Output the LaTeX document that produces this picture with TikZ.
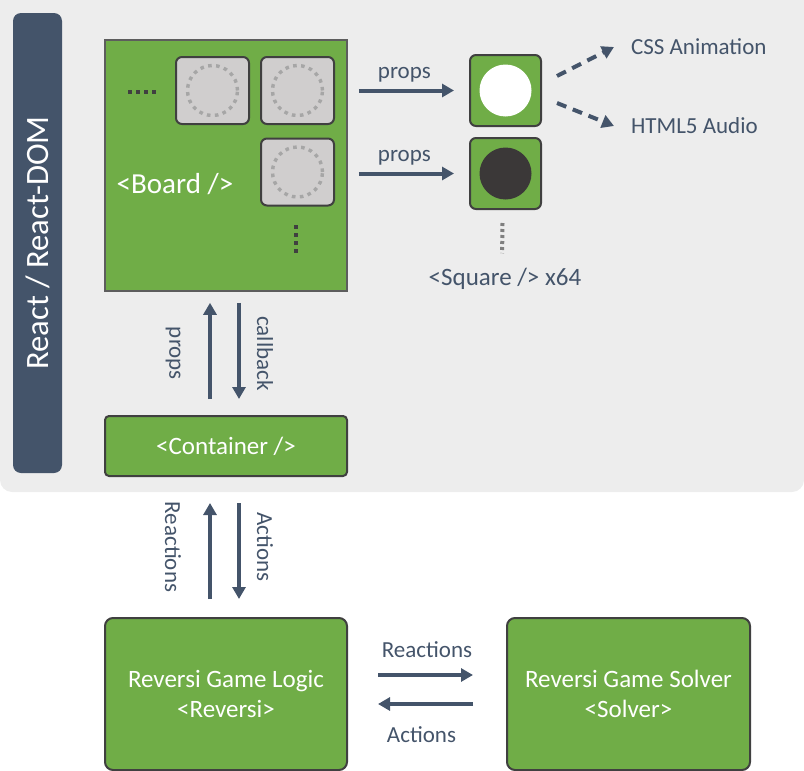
\documentclass[tikz,border=0pt]{standalone}
\usepackage{fontspec}
\setmainfont{Carlito}
\usepackage{xcolor}
\definecolor{cGreen}{HTML}{70AD47}
\definecolor{cEdge}{HTML}{404040}
\definecolor{cSlate}{HTML}{44546A}
\definecolor{cPanel}{HTML}{EDEDED}
\definecolor{cCell}{HTML}{D0CECE}
\definecolor{cDots}{HTML}{A6A6A6}
\definecolor{cStone}{HTML}{3B3838}
\definecolor{cGrayLine}{HTML}{7F7F7F}
\usetikzlibrary{positioning,arrows.meta,calc}
\tikzset{
  node-green/.style={draw=cEdge,line width=1pt,fill=cGreen,rounded corners=3pt,
    text=white,align=center,font=\fontsize{12.5}{15}\selectfont},
  node-cell/.style={draw=cEdge,line width=1pt,fill=cCell,rounded corners=3pt,
    minimum width=36.5pt,minimum height=33.5pt,inner sep=0pt},
  node-square/.style={node-green,minimum size=35.5pt,inner sep=0pt},
  label-text/.style={text=cSlate,font=\fontsize{11.5}{13}\selectfont},
  arrow/.style={-{Triangle[length=6pt,width=6.5pt]},line width=2pt,draw=cSlate},
  arrow-dashed/.style={arrow,dash pattern=on 5pt off 3.5pt},
  ring/.style={draw=cDots,line width=1.7pt,dash pattern=on 1.8pt off 2.2pt},
  ellipsis/.style={draw=cEdge,line width=2pt,dash pattern=on 2pt off 2pt},
}
\begin{document}
\begin{tikzpicture}[x=0.5pt,y=-0.5pt]
  \useasboundingbox (0,0) rectangle (804,771);
  % React panel
  \fill[cPanel,rounded corners=6pt] (0,-20) rectangle (804,492);
  \node[fill=cSlate,rounded corners=4pt,minimum width=230pt,minimum height=24.5pt,
    rotate=90,text=white,font=\fontsize{16.3}{19}\selectfont] (side) at (37.5,243) {React / React-DOM};

  % board with its cells
  \node[draw=cEdge!85,line width=0.8pt,fill=cGreen,minimum width=121pt,
    minimum height=125.5pt] (board) at (226,165.5) {};
  \node[text=white,font=\fontsize{14.5}{17}\selectfont] (board-name) at (175,184) {<Board />};
  \node[node-cell] (cell-a) at (212.5,90.5) {};
  \node[node-cell] (cell-b) at (297.5,90.5) {};
  \node[node-cell] (cell-c) at (297.5,172) {};
  \foreach \c in {cell-a,cell-b,cell-c}
    \draw[ring] (\c) circle[radius=12.5pt];
  \draw[ellipsis] (128,92) -- (157,92);
  \draw[ellipsis] (296,225) -- (296,254);

  % squares
  \node[node-square] (sq-white) at (505.5,90.5) {};
  \node[node-square] (sq-black) at (505.5,173.5) {};
  \fill[white] (sq-white) circle[radius=13pt];
  \fill[cStone] (sq-black) circle[radius=13pt];
  \node[label-text,font=\fontsize{12.5}{14}\selectfont] (sq-name) at (505,279) {<Square /> x64};
  \draw[draw=cGrayLine,line width=2pt,dash pattern=on 1.5pt off 1.5pt,shorten >=4pt]
    ([xshift=-1.5pt,yshift=-6.5pt]sq-black.south) -- ([xshift=-1.5pt]sq-name.north);
  \node[label-text,anchor=west] (css)   at (624,47)  {CSS Animation};
  \node[label-text,anchor=west] (audio) at (624,126) {HTML5 Audio};

  \draw[arrow,shorten <=5.5pt,shorten >=7.5pt] (board.east |- sq-white) --
    node[label-text,above=0pt,xshift=-2pt] {props} (sq-white.west);
  \draw[arrow,shorten <=5.5pt,shorten >=7.5pt] (board.east |- sq-black) --
    node[label-text,above=0pt,xshift=-2pt] {props} (sq-black.west);
  \draw[arrow-dashed] ([xshift=7.5pt,yshift=7.25pt]sq-white.east) -- ([xshift=-5pt]css.west);
  \draw[arrow-dashed] ([xshift=7.5pt,yshift=-6.25pt]sq-white.east) -- ([xshift=-5pt]audio.west);

  % container
  \node[node-green,rounded corners=2pt,minimum width=121pt,minimum height=30pt]
    (cont) at (226,446) {<Container />};
  \draw[arrow,shorten <=8pt,shorten >=5.5pt] ([xshift=-8pt]cont.north) --
    node[label-text,xshift=-18.5pt,rotate=-90] {props} ([xshift=-8pt]board.south);
  \draw[arrow,shorten <=5.5pt,shorten >=8pt] ([xshift=6.5pt]board.south) --
    node[label-text,xshift=13pt,rotate=-90] {callback} ([xshift=6.5pt]cont.north);

  % game logic and solver
  \node[node-green,rounded corners=4pt,minimum width=121pt,minimum height=76pt]
    (logic) at (226,694) {Reversi Game Logic\\<Reversi>};
  \node[node-green,rounded corners=4pt,minimum width=121.5pt,minimum height=76pt]
    (solver) at (628.5,694) {Reversi Game Solver\\<Solver>};
  \draw[arrow,shorten <=9pt,shorten >=13pt] ([xshift=-8pt]logic.north) --
    node[label-text,xshift=-18.5pt,rotate=-90] {Reactions} ([xshift=-8pt]cont.south);
  \draw[arrow,shorten <=13pt,shorten >=9pt] ([xshift=6.5pt]cont.south) --
    node[label-text,xshift=13pt,rotate=-90] {Actions} ([xshift=6.5pt]logic.north);
  \draw[arrow,shorten <=15pt,shorten >=16.5pt] ([yshift=9.5pt]logic.east) --
    node[label-text,above=4.5pt] {Reactions} ([yshift=9.5pt]solver.west);
  \draw[arrow,shorten <=16.5pt,shorten >=15pt] ([yshift=-5pt]solver.west) --
    node[label-text,below=7pt,xshift=-2.75pt] {Actions} ([yshift=-5pt]logic.east);
\end{tikzpicture}
\end{document}
